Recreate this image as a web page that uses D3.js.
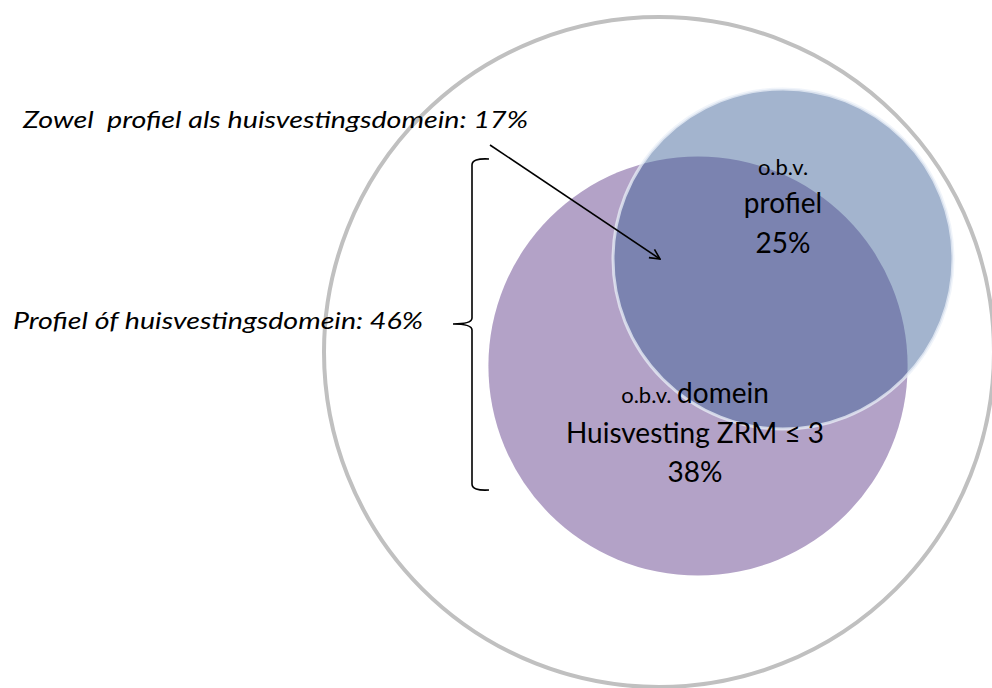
<!DOCTYPE html>
<html lang="nl">
<head>
<meta charset="UTF-8">
<title>Venn - profiel en huisvestingsdomein</title>
<script src="https://d3js.org/d3.v7.min.js"></script>
<style>
  body { margin: 0; background: #fff; font-family: Lato, "Open Sans", sans-serif; }
  text { white-space: pre; }
</style>
</head>
<body>
<svg width="992" height="688"></svg>
<script>
// share of total population (%) per set
const setNames = ["totaal", "domein", "profiel"];
const setValues = [100, 38, 25];
const overlapLabel = "Zowel  profiel als huisvestingsdomein: 17%";
const unionLabel = "Profiel óf huisvestingsdomein: 46%";
const profielLines = ["o.b.v.", "profiel", "25%"];
const domeinLines = [["o.b.v. ", "domein"], ["", "Huisvesting ZRM \u2264 3"], ["", "38%"]];

const svg = d3.select("svg");

// circle area proportional to percentage
const r = d3.scaleSqrt().domain([0, 100]).range([0, 340]);

// outer circle (total)
svg.append("circle")
    .attr("cx", 659).attr("cy", 352)
    .attr("r", r(setValues[0]) - 5)
    .attr("fill", "none")
    .attr("stroke", "#c0c0c0")
    .attr("stroke-width", 4);

// domein circle
svg.append("circle")
    .attr("cx", 698).attr("cy", 366)
    .attr("r", r(setValues[1]))
    .attr("fill", "#b3a2c7");

// profiel circle (semi transparent)
svg.append("circle")
    .attr("cx", 783).attr("cy", 259)
    .attr("r", r(setValues[2]))
    .attr("fill", "rgb(60,96,150)")
    .attr("fill-opacity", 0.47)
    .attr("stroke", "rgba(235,240,248,0.75)")
    .attr("stroke-width", 3);

// labels in circles
const prof = svg.append("text")
    .attr("text-anchor", "middle")
    .attr("fill", "#000");
prof.selectAll("tspan")
    .data(profielLines)
    .enter().append("tspan")
    .attr("x", 783)
    .attr("y", (d, i) => [175, 213, 253][i])
    .style("font-size", (d, i) => i === 0 ? "22px" : "28px")
    .text(d => d);

domeinLines.forEach((line, i) => {
    const t = svg.append("text")
        .attr("x", 695)
        .attr("y", [403, 443, 482][i])
        .attr("text-anchor", "middle");
    if (line[0]) t.append("tspan").style("font-size", "22px").text(line[0]);
    t.append("tspan").style("font-size", "28px").text(line[1]);
});

// annotations
svg.append("text")
    .attr("x", 23).attr("y", 128)
    .attr("font-style", "italic")
    .style("font-size", "24px")
    .attr("textLength", 505)
    .attr("lengthAdjust", "spacingAndGlyphs")
    .text(overlapLabel);

svg.append("text")
    .attr("x", 13).attr("y", 329)
    .attr("font-style", "italic")
    .style("font-size", "24px")
    .attr("textLength", 410)
    .attr("lengthAdjust", "spacingAndGlyphs")
    .text(unionLabel);

// arrow
svg.append("defs").append("marker")
    .attr("id", "arrow")
    .attr("viewBox", "0 0 12 12")
    .attr("refX", 11).attr("refY", 6)
    .attr("markerWidth", 12).attr("markerHeight", 12)
    .attr("markerUnits", "userSpaceOnUse")
    .attr("orient", "auto")
    .append("path")
    .attr("d", "M1,1 L11,6 L1,11")
    .attr("fill", "none")
    .attr("stroke", "#000")
    .attr("stroke-width", 1.6);

svg.append("line")
    .attr("x1", 490).attr("y1", 145)
    .attr("x2", 660).attr("y2", 259)
    .attr("stroke", "#000")
    .attr("stroke-width", 1.6)
    .attr("marker-end", "url(#arrow)");

// curly bracket
const bx = 472, bTop = 159, bMid = 324, bBot = 490;
svg.append("path")
    .attr("d", `M489,${bTop} Q472,${bTop - 1} ${bx},${bTop + 6} L${bx},${bMid - 6} Q${bx},${bMid} 453,${bMid}
                M453,${bMid} Q${bx},${bMid} ${bx},${bMid + 6} L${bx},${bBot - 6} Q472,${bBot + 1} 489,${bBot}`)
    .attr("fill", "none")
    .attr("stroke", "#000")
    .attr("stroke-width", 1.6);
</script>
</body>
</html>
